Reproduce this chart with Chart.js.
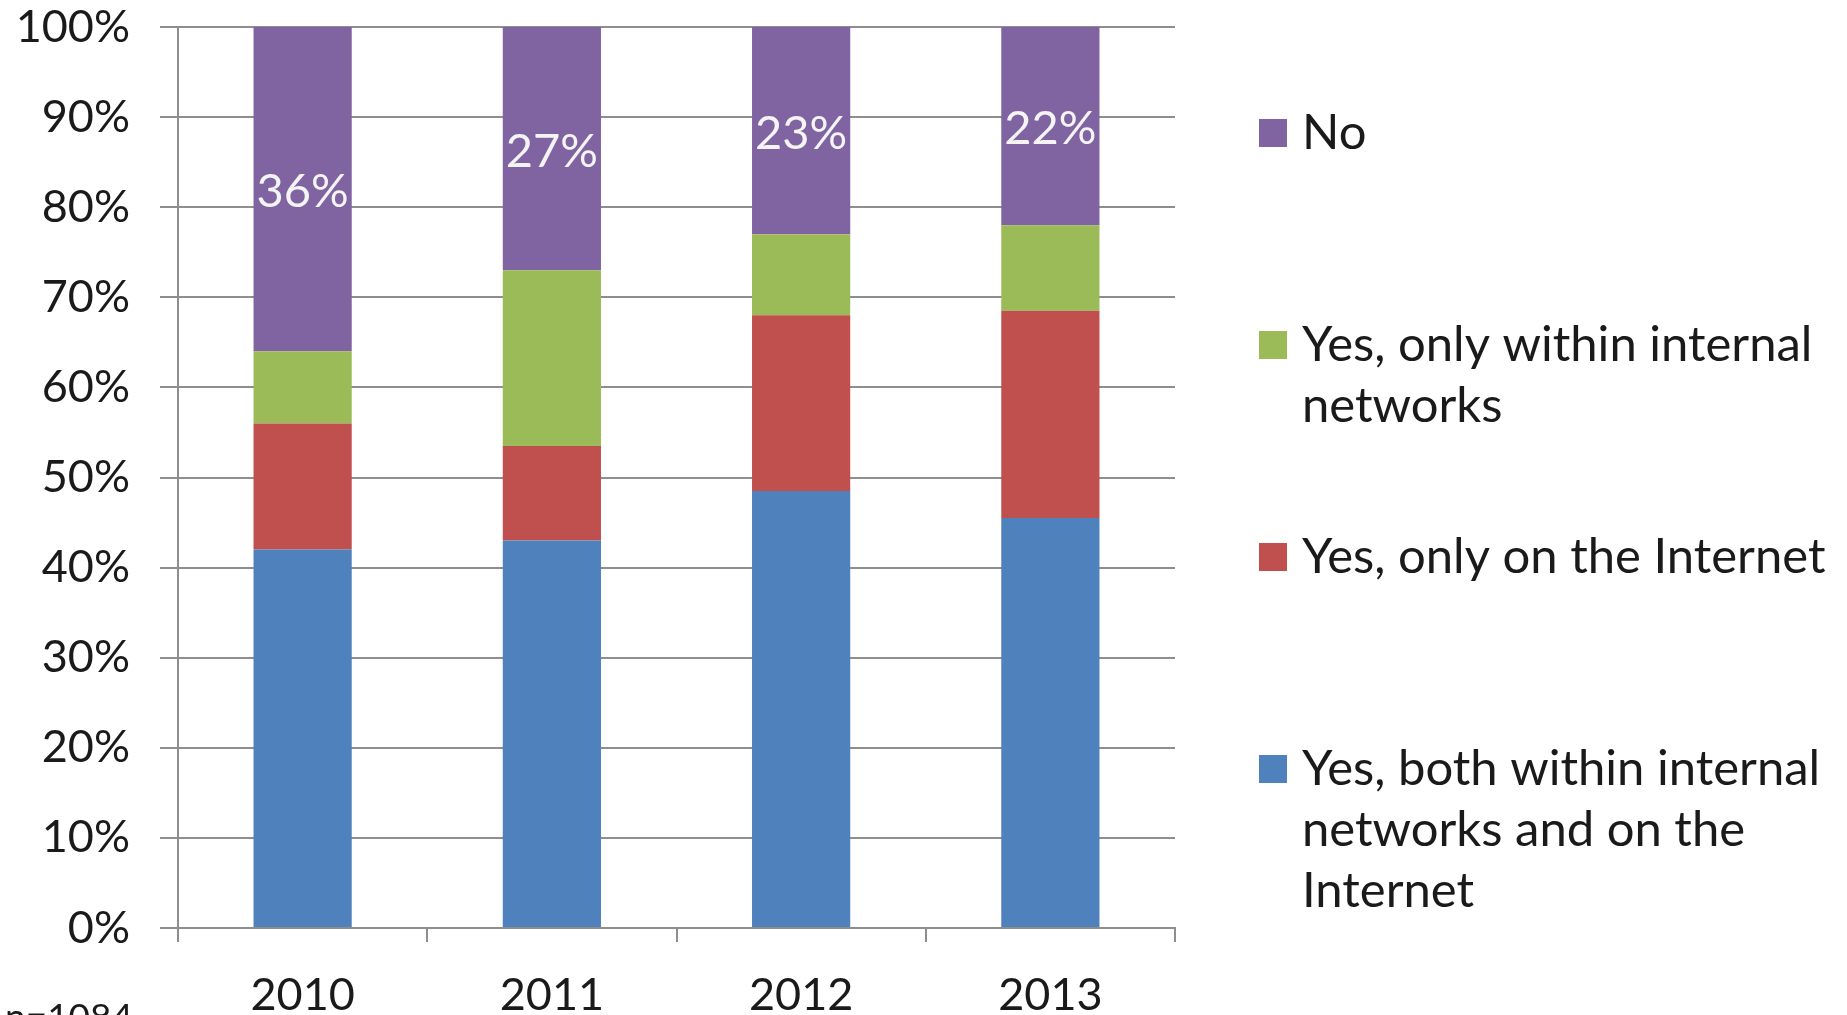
<!DOCTYPE html>
<html>
<head>
<meta charset="utf-8">
<script src="https://cdn.jsdelivr.net/npm/chart.js@4/dist/chart.umd.min.js"></script>
<style>
  html, body { margin: 0; padding: 0; background: #ffffff; overflow: hidden; }
  #wrap { position: relative; width: 1847px; height: 1015px; }
  canvas { display: block; }
</style>
</head>
<body>
<div id="wrap"><canvas id="c" width="1847" height="1015"></canvas></div>
<script>
// ---- data ----
const categories = ["2010", "2011", "2012", "2013"];
const seriesNames = [
  "Yes, both within internal networks and on the Internet",
  "Yes, only on the Internet",
  "Yes, only within internal networks",
  "No"
];
const legendLines = [
  ["Yes, both within internal", "networks and on the", "Internet"],
  ["Yes, only on the Internet"],
  ["Yes, only within internal", "networks"],
  ["No"]
];
const bothValues     = [42, 43, 48.5, 45.5];
const internetValues = [14, 10.5, 19.5, 23];
const internalValues = [8, 19.5, 9, 9.5];
const noValues       = [36, 27, 23, 22];
const noLabels       = ["36%", "27%", "23%", "22%"];
const yTicks         = [0, 10, 20, 30, 40, 50, 60, 70, 80, 90, 100];
const sampleNote     = "n=1084";

const colors = ["#4F81BD", "#C0504D", "#9BBB59", "#8064A2"];
const FONT = "Lato";
const GRID = "#8e8e8e";

const seriesValues = [bothValues, internetValues, internalValues, noValues];

const labelPlugin = {
  id: "noLabels",
  afterDatasetsDraw(chart) {
    const meta = chart.getDatasetMeta(3);
    const ctx = chart.ctx;
    ctx.save();
    ctx.fillStyle = "#f4f4f4";
    ctx.font = "47px " + FONT;
    ctx.textAlign = "center";
    ctx.textBaseline = "middle";
    meta.data.forEach((el, i) => {
      const p = el.getProps(["x", "y", "base"], true);
      ctx.fillText(noLabels[i], p.x, (p.y + p.base) / 2 + 3);
    });
    ctx.restore();
  }
};

const legendPlugin = {
  id: "sideLegend",
  afterDraw(chart) {
    const ctx = chart.ctx;
    ctx.save();
    ctx.font = "49px " + FONT;
    ctx.textBaseline = "middle";
    ctx.textAlign = "left";
    const order = [3, 2, 1, 0];
    const firstY = [133, 345, 557, 769];
    order.forEach((di, k) => {
      const y = firstY[k];
      ctx.fillStyle = colors[di];
      ctx.fillRect(1259, y - 14, 28, 28);
      ctx.fillStyle = "#1a1a1a";
      legendLines[di].forEach((line, j) => {
        ctx.fillText(line, 1302, y + j * 61);
      });
    });
    // sample size note (cut off at the bottom edge)
    ctx.textAlign = "right";
    ctx.textBaseline = "alphabetic";
    ctx.font = "37px " + FONT;
    ctx.fillText(sampleNote, 133, 1030);
    ctx.restore();
  }
};

new Chart(document.getElementById("c"), {
  type: "bar",
  data: {
    labels: categories,
    datasets: seriesNames.map((name, i) => ({
      label: name,
      data: seriesValues[i],
      backgroundColor: colors[i],
      borderWidth: 0,
      barPercentage: 1,
      categoryPercentage: 0.394
    }))
  },
  options: {
    responsive: false,
    animation: false,
    layout: { padding: { left: 0, right: 672, top: 27, bottom: 0 } },
    plugins: { legend: { display: false }, tooltip: { enabled: false } },
    scales: {
      x: {
        stacked: true,
        offset: true,
        grid: {
          display: true, drawOnChartArea: false, drawTicks: true,
          tickLength: 14, color: GRID, lineWidth: 2, offset: true
        },
        border: { display: true, color: GRID, width: 2 },
        ticks: { font: { family: FONT, size: 45 }, color: "#1a1a1a", padding: 26, maxRotation: 0 },
        afterFit(scale) { scale.height = 87; scale.paddingLeft = 0; scale.paddingRight = 0; }
      },
      y: {
        stacked: true,
        min: 0,
        max: 100,
        afterBuildTicks(scale) { scale.ticks = yTicks.map(v => ({ value: v })); },
        ticks: {
          stepSize: 10,
          font: { family: FONT, size: 45 },
          color: "#1a1a1a",
          padding: 30,
          callback: v => v + "%"
        },
        grid: { color: GRID, lineWidth: 2, tickLength: 18, drawTicks: true },
        border: { display: true, color: GRID, width: 2 },
        afterFit(scale) { scale.width = 178; scale.paddingTop = 0; scale.paddingBottom = 0; }
      }
    }
  },
  plugins: [labelPlugin, legendPlugin]
});
</script>
</body>
</html>
